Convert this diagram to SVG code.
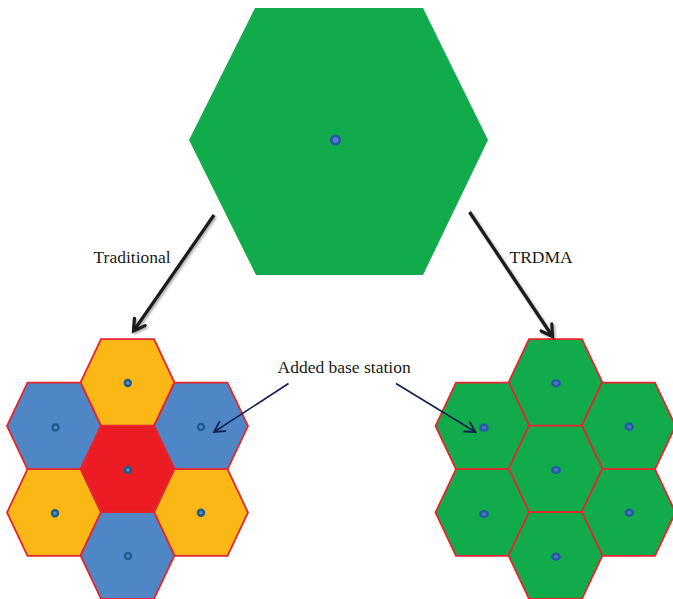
<svg xmlns="http://www.w3.org/2000/svg" width="673" height="599" viewBox="0 0 673 599">
<style>
.cell{stroke:#E5262E;stroke-width:1.8;stroke-linejoin:miter}
.g{fill:#12AB4C}
.y{fill:#FBB716}
.b{fill:#4E86C6}
.r{fill:#EC1C24}
.bs{fill:#4F7FCC;stroke:#2656A6;stroke-width:2.6}
.bs2{fill:#5F8CC0;stroke:#1D5A8E;stroke-width:2.4}
.bs3{fill:#4A78C0;stroke:#2657A4;stroke-width:2.4}
.lbl{font-family:"Liberation Serif","Times New Roman",serif;font-size:17.5px;fill:#1a1a1a}
.big{stroke:#1a1a1a;stroke-width:3.2;fill:none}
.thin{stroke:#102050;stroke-width:1.6;fill:none}
</style>
<defs>
<polygon id="hex" points="-26.5,-43.3 26.5,-43.3 47,0 26.5,43.3 -26.5,43.3 -47,0"/>
<marker id="ah" markerUnits="userSpaceOnUse" viewBox="0 0 16 16" markerWidth="16" markerHeight="16" refX="13" refY="8" orient="auto">
<path d="M2,1.5 L13,8 L2,14.5" fill="none" stroke="#1a1a1a" stroke-width="3.2" stroke-linecap="round" stroke-linejoin="miter"/>
</marker>
<marker id="ah2" markerUnits="userSpaceOnUse" viewBox="0 0 14 14" markerWidth="14" markerHeight="14" refX="12" refY="7" orient="auto">
<path d="M2,1.5 L12,7 L2,12.5" fill="none" stroke="#102050" stroke-width="1.8" stroke-linecap="round"/>
</marker>
<filter id="sh" x="-20%" y="-20%" width="140%" height="140%">
<feDropShadow dx="1.5" dy="1.5" stdDeviation="1.2" flood-color="#000" flood-opacity="0.35"/>
</filter>
</defs>

<g id="top-cell">
<polygon class="g" points="255,8 423,8 488,140 423,275 256,275 189,140"/>
<circle class="bs" cx="335.5" cy="140" r="4.2"/>
</g>

<g id="traditional-cluster">
<g id="t-top"><use href="#hex" class="cell y" x="127.5" y="382.5"/><circle class="bs2" cx="127.8" cy="383" r="3"/></g>
<g id="t-ul"><use href="#hex" class="cell b" x="54" y="426"/><circle class="bs2" cx="55.5" cy="427.5" r="3"/></g>
<g id="t-ur"><use href="#hex" class="cell b" x="201" y="426"/><circle class="bs2" cx="201" cy="427" r="3"/></g>
<g id="t-center"><use href="#hex" class="cell r" x="127.5" y="469"/><circle class="bs2" cx="128" cy="470" r="3"/></g>
<g id="t-ll"><use href="#hex" class="cell y" x="54" y="512.5"/><circle class="bs2" cx="55" cy="513.3" r="3"/></g>
<g id="t-lr"><use href="#hex" class="cell y" x="201" y="512.5"/><circle class="bs2" cx="201" cy="512.7" r="3"/></g>
<g id="t-bottom"><use href="#hex" class="cell b" x="127.5" y="555.5"/><circle class="bs2" cx="128" cy="556" r="3"/></g>
</g>

<g id="trdma-cluster">
<g id="r-top"><use href="#hex" class="cell g" x="555.5" y="382.5"/><ellipse class="bs3" cx="556" cy="383.3" rx="3.6" ry="2.9"/></g>
<g id="r-ul"><use href="#hex" class="cell g" x="482.5" y="426"/><ellipse class="bs3" cx="484" cy="427.7" rx="3.6" ry="2.9"/></g>
<g id="r-ur"><use href="#hex" class="cell g" x="628.5" y="426"/><ellipse class="bs3" cx="629.3" cy="426.7" rx="3.6" ry="2.9"/></g>
<g id="r-center"><use href="#hex" class="cell g" x="555.5" y="469"/><ellipse class="bs3" cx="556" cy="470" rx="3.6" ry="2.9"/></g>
<g id="r-ll"><use href="#hex" class="cell g" x="482.5" y="512.5"/><ellipse class="bs3" cx="484" cy="514" rx="3.6" ry="2.9"/></g>
<g id="r-lr"><use href="#hex" class="cell g" x="628.5" y="512.5"/><ellipse class="bs3" cx="629.3" cy="512.7" rx="3.6" ry="2.9"/></g>
<g id="r-bottom"><use href="#hex" class="cell g" x="555.5" y="555.5"/><ellipse class="bs3" cx="556" cy="556.7" rx="3.6" ry="2.9"/></g>
</g>

<g id="connectors">
<line class="big" x1="214" y1="215" x2="133.5" y2="331" marker-end="url(#ah)" filter="url(#sh)"/>
<line class="big" x1="469.5" y1="212" x2="552.5" y2="336.5" marker-end="url(#ah)" filter="url(#sh)"/>
<line class="thin" x1="288.5" y1="383.5" x2="214" y2="432" marker-end="url(#ah2)"/>
<line class="thin" x1="396" y1="383.5" x2="475.5" y2="432" marker-end="url(#ah2)"/>
</g>

<g id="labels">
<text class="lbl" x="93.5" y="262.5">Traditional</text>
<text class="lbl" x="509.5" y="262.5">TRDMA</text>
<text class="lbl" x="277.5" y="372.5">Added base station</text>
</g>
</svg>
